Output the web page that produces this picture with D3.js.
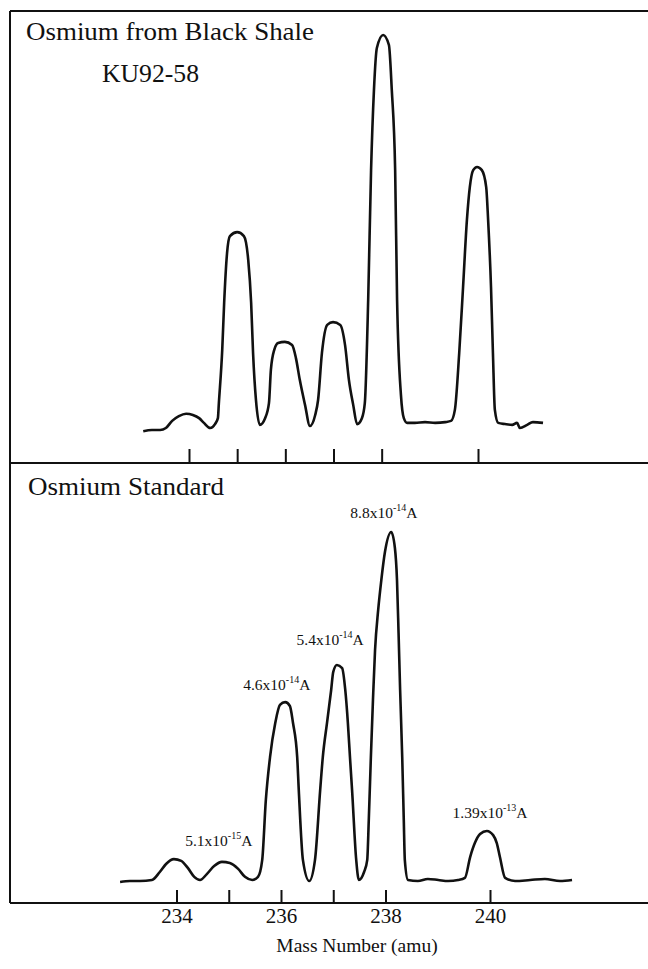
<!DOCTYPE html>
<html>
<head>
<meta charset="utf-8">
<script src="https://cdn.jsdelivr.net/npm/d3@7"></script>
<style>
  html, body { margin: 0; padding: 0; background: #fff; }
  svg { display: block; }
</style>
</head>
<body>
<div id="chart"></div>
<script>
// Osmium mass scans – black shale sample vs. standard (two stacked traces)

/* ── Data (mass in amu, signal in % of the tallest peak) ── */
const TICK_MASSES  = [234, 235, 236, 237, 238, 240];
const TICK_LABELS  = [234, 236, 238, 240];

const SHALE_MASS = [233.05,233.23,233.40,233.52,233.65,233.79,233.94,234.08,234.21,234.31,234.44,234.54,
  234.60,234.62,234.69,234.73,234.79,234.85,235.00,235.14,235.23,235.29,235.33,235.39,235.47,
  235.58,235.66,235.70,235.77,235.85,235.99,236.14,236.22,236.30,236.41,236.51,
  236.62,236.68,236.76,236.87,236.99,237.14,237.24,237.32,237.41,237.49,
  237.59,237.65,237.72,237.78,237.84,237.90,238.03,238.15,238.21,238.28,238.32,238.40,238.46,238.53,
  238.69,238.90,239.11,239.32,239.44,
  239.52,239.61,239.69,239.77,239.83,239.90,239.98,240.08,240.17,240.21,240.27,240.31,240.35,240.42,
  240.56,240.71,240.81,240.87,241.02,241.14,241.35];
const SHALE_SIGNAL = [-0.3,0,0,0.5,2.3,3.5,4.1,3.8,3.0,1.8,0.5,1.5,
  3.0,6.8,20.3,32.2,44.8,49.1,50.1,49.1,43.0,32.2,19.5,7.6,1.3,
  3.0,6.8,15.2,20.3,22.0,22.3,21.5,18.2,12.7,6.3,1.0,
  3.8,7.6,19.5,26.6,27.3,26.6,21.5,12.7,6.3,1.5,
  3.0,6.8,32.9,65.8,86.1,96.7,100,97.5,86.1,65.8,32.9,8.9,3.0,1.8,
  1.8,2.0,1.8,2.0,2.3,
  5.1,19.5,36.2,53.2,61.5,65.8,66.6,65.8,61.5,53.2,36.2,19.5,5.1,1.8,
  1.5,1.3,1.8,0.5,1.3,2.0,1.8];

const STD_MASS = [232.92,233.11,233.30,233.53,233.68,233.80,233.95,234.09,234.22,234.34,234.45,
  234.58,234.72,234.87,235.02,235.18,235.31,235.45,
  235.56,235.64,235.71,235.79,235.89,235.98,236.08,236.17,236.23,236.31,236.34,236.42,236.54,
  236.65,236.75,236.80,236.88,236.96,237.00,237.07,237.17,237.23,237.28,237.32,237.36,237.44,237.49,
  237.59,237.65,237.68,237.72,237.76,237.80,237.86,237.92,237.99,238.11,238.18,238.22,238.25,238.28,238.32,238.35,238.37,238.43,
  238.62,238.81,239.01,239.20,239.39,
  239.52,239.62,239.71,239.81,239.94,240.06,240.13,240.19,240.29,
  240.48,240.77,241.05,241.34,241.57];
const STD_SIGNAL = [-0.6,-0.3,-0.3,0,2.3,4.6,6.0,5.5,3.4,0.9,0,
  1.7,4.0,5.2,4.9,3.2,0.9,0,
  0.9,5.7,23.0,35.3,45.1,50.3,51.1,50.0,45.1,35.3,25.9,5.7,-0.3,
  5.7,25.9,35.3,45.1,54.6,59.8,61.8,60.9,54.6,45.1,35.3,25.9,5.7,0,
  2.3,5.7,17.2,35.3,51.7,66.1,77.6,86.2,94.3,100,95.4,86.2,71.0,54.6,35.3,17.2,5.7,0,
  -0.3,0.3,0,-0.3,0,
  0.6,6.6,10.6,13.2,14.1,12.9,10.6,6.6,0.6,
  -0.3,0,0.3,-0.3,0];

// peak annotations on the standard scan (anchor in data units)
const STD_LABEL_MASS   = [234.81, 235.92, 236.94, 237.97, 240.00];
const STD_LABEL_SIGNAL = [9.8, 54.6, 67.5, 104.0, 17.8];
const STD_LABEL_BASE   = ["5.1x10", "4.6x10", "5.4x10", "8.8x10", "1.39x10"];
const STD_LABEL_EXP    = ["-15", "-14", "-14", "-14", "-13"];

/* ── Layout ── */
const totalW = 648, totalH = 969;
const frameL = 10, frameT = 11, frameMid = 463, frameB = 903;
const SERIF = "'Liberation Serif', 'Times New Roman', serif";

const svg = d3.select("#chart").append("svg")
  .attr("width", totalW).attr("height", totalH);

/* ── Scales ── */
const xTop = d3.scaleLinear().domain([234, 240]).range([189, 478]);
const yTop = d3.scaleLinear().domain([0, 100]).range([430, 35]);
const xBot = d3.scaleLinear().domain([234, 240]).range([176.5, 490]);
const yBot = d3.scaleLinear().domain([0, 100]).range([880, 532]);

/* ── Frame ── */
const frame = svg.append("g").attr("stroke", "#111").attr("stroke-width", 2).attr("fill", "none");
frame.append("line").attr("x1", frameL).attr("x2", frameL).attr("y1", frameT).attr("y2", frameB);
[frameT, frameMid, frameB].forEach(yy =>
  frame.append("line").attr("x1", frameL).attr("x2", totalW).attr("y1", yy).attr("y2", yy));

/* ── Tick marks ── */
svg.append("g").attr("transform", `translate(0,${frameMid})`)
  .call(d3.axisTop(xTop).tickValues(TICK_MASSES).tickSize(14).tickFormat(""))
  .call(ax => { ax.select(".domain").remove(); ax.selectAll("line").attr("stroke", "#111").attr("stroke-width", 2); });

svg.append("g").attr("transform", `translate(0,${frameB})`)
  .call(d3.axisBottom(xBot).tickValues(TICK_MASSES).tickSize(-13).tickPadding(5)
    .tickFormat(d => TICK_LABELS.includes(d) ? d : ""))
  .call(ax => { ax.select(".domain").remove(); ax.selectAll("line").attr("stroke", "#111").attr("stroke-width", 2); })
  .selectAll("text").attr("font-family", SERIF).attr("font-size", 21).attr("fill", "#111");

/* ── Traces ── */
const line = (x, y) => d3.line().x(d => x(d[0])).y(d => y(d[1])).curve(d3.curveMonotoneX);

svg.append("path")
  .datum(d3.zip(SHALE_MASS, SHALE_SIGNAL))
  .attr("d", line(xTop, yTop))
  .attr("fill", "none").attr("stroke", "#111").attr("stroke-width", 2.6)
  .attr("stroke-linejoin", "round");

svg.append("path")
  .datum(d3.zip(STD_MASS, STD_SIGNAL))
  .attr("d", line(xBot, yBot))
  .attr("fill", "none").attr("stroke", "#111").attr("stroke-width", 2.6)
  .attr("stroke-linejoin", "round");

/* ── Panel titles ── */
const title = (x, y, txt, len) => svg.append("text")
  .attr("x", x).attr("y", y)
  .attr("font-family", SERIF).attr("font-size", 26).attr("fill", "#111")
  .attr("textLength", len).attr("lengthAdjust", "spacingAndGlyphs")
  .text(txt);

title(26, 40, "Osmium from Black Shale", 288);
title(102, 82, "KU92-58", 97);
title(28, 495, "Osmium Standard", 196);

/* ── Peak current labels ── */
STD_LABEL_MASS.forEach((m, i) => {
  const t = svg.append("text")
    .attr("x", xBot(m)).attr("y", yBot(STD_LABEL_SIGNAL[i]))
    .attr("text-anchor", "middle")
    .attr("font-family", SERIF).attr("font-size", 15.5).attr("fill", "#111");
  t.append("tspan").text(STD_LABEL_BASE[i]);
  t.append("tspan").attr("font-size", 10).attr("dy", -7).text(STD_LABEL_EXP[i]);
  t.append("tspan").attr("dy", 7).text("A");
});

/* ── Axis title ── */
svg.append("text")
  .attr("x", 357).attr("y", 952)
  .attr("text-anchor", "middle")
  .attr("font-family", SERIF).attr("font-size", 19.5).attr("fill", "#111")
  .text("Mass Number (amu)");
</script>
</body>
</html>
